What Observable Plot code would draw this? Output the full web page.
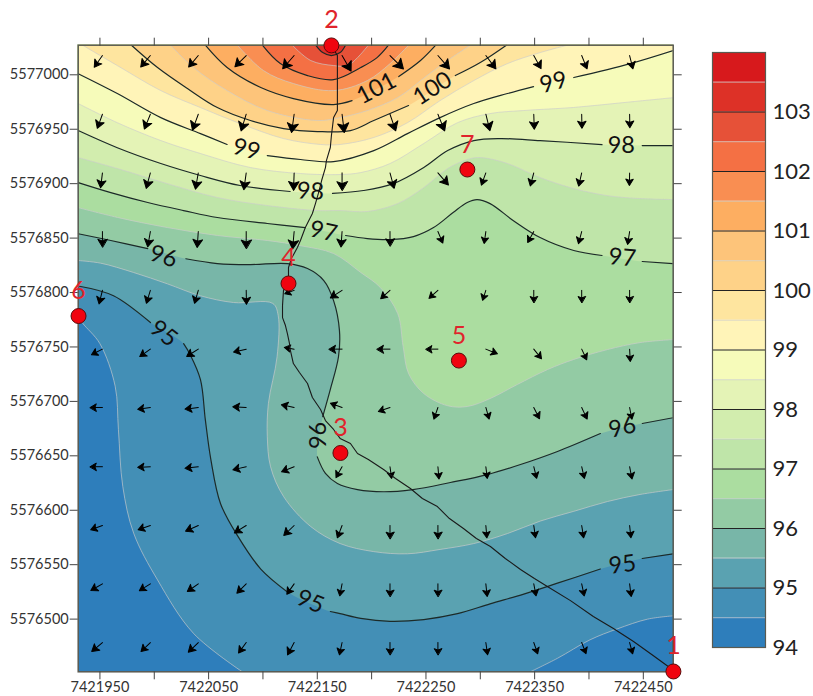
<!DOCTYPE html>
<html><head><meta charset="utf-8">
<script src="https://cdn.jsdelivr.net/npm/d3@7"></script>
<script src="https://cdn.jsdelivr.net/npm/@observablehq/plot@0.6"></script>
<style>
html,body{margin:0;padding:0;background:#fff;overflow:hidden}
#wrap{position:relative;width:813px;height:696px}
#bar{position:absolute;left:690px;top:30px}
#main svg,#bar svg{display:block;background:none}
</style></head><body>
<div id="wrap"><div id="main"></div><div id="bar"></div></div>
<script>
// Coordinates are metres relative to a base point
const E0 = 7421900, N0 = 5576400;
const xTicks = [7421950,7422000,7422050,7422100,7422150,7422200,7422250,7422300,7422350,7422400,7422450];
const yTicks = [5576500,5576550,5576600,5576650,5576700,5576750,5576800,5576850,5576900,5576950,5577000];
const levels = [94,94.5,95,95.5,96,96.5,97,97.5,98,98.5,99,99.5,100,100.5,101,101.5,102,102.5,103,103.5];
const colors = ["#2e7ebb","#438fb6","#5aa2b1","#78b6a8","#93cba4","#abdda0","#bfe5a9","#d2edae","#e4f3b6","#f6fbba",
                "#fff4b8","#fee59f","#fed288","#fdc47a","#fdae61","#f98e52","#f47044","#e65138","#dd3127","#d7191c"];

// Isolines; null marks a gap left for a contour label
const iso94_5a = [[30,379],[34,372],[50,353],[64,314],[67,274],[71,222],[81,179],[103,136],[136,87],[181,51.6]];
const iso94_5b = [[446,51.6],[471,64],[501,81],[526,91],[554,100],[577.5,103]];
const iso95 = [[30,406],[62.5,397],[96.5,372.4],null,[127,353],[133,343],[142.5,320],[147,283],[152,247],[161,206],[177,176],[198,146],[222.5,125],null,[262,107],[271,105],[290,100.6],[317,98],[348,99.6],[379,105],[409,114],[440,123],[471,133],[510.5,146],null,[549,155.7],[577.5,160]];
const iso95_5 = [[30,429.4],[50.5,427],[81,418.4],[112,408],[142.5,397],[173,390.8],[209,390],[214,379],[213,341],[205,298],[204,268],[207,240],[219,212.6],[244,185],[271,169.4],[302,162],[333,160],[363,164],[394,169.4],[425,178.6],[455,190],[486,199],[517,208],[547,214.5],[577.5,219]];
const iso96 = [[30,454],[60,447.8],[94,440.4],null,[129,431],[158,426.6],[188.5,425.7],[222.5,426.6],[241,422],[256,411],[265,392.6],[270.4,365],[269.5,341],[262,311],[255,286],null,[250,249],[257.5,233.8],[268.5,224.6],[287,219],[311,217],[338,219],[372.5,225.5],[406.5,232.8],[437,242],[471,254],[510.5,270.5],null,[549,279.7],[577.5,285]];
const iso96_5 = [[30,478],[66,469],[112,459.7],[158,452.4],[204,447.8],[234.5,443],[265,435.8],[290,418.4],[308,404.6],[324,380.7],[329,350.4],[334,325.6],[348,307.2],[370,296],[388,295.3],[409,302.6],[434,315.5],[462,329.3],[486,338.5],[517,347.6],[547,354],[577.5,356.8]];
const iso97 = [[30,501],[60,491.8],[94,482.7],[127,475.3],[158,468.9],[204,463.4],[239,459.7],null,[276,452.4],[296,449.6],[317,448.7],[338.5,451.4],[357,459.7],[375,473.5],[388,482.7],[397,485.4],[409,481.7],[430.5,466],[455,450.5],[486,438.6],[512,434],null,[549,428.5],[577.5,426.6]];
const iso97_5 = [[30,524],[66,513.9],[112,500],[158,487.3],[204,479.9],[250,475.3],[271,475.3],[296,474.4],[324,481.7],[348,496.4],[370,513.9],[388,522.2],[400,524],[425,518.5],[455,505.6],[486,495.5],[517,489],[547,486.3],[577.5,485.4]];
const iso98 = [[30,548.8],[66,533],[106,518.5],[142.5,507.5],[179,498.3],[225,492.8],null,[264,491],[292.5,493.7],[320,500],[348,514.8],[370,530.4],[394,539.6],[418.5,541.4],[455,539.6],[512,535.9],null,[549,535],[577.5,535]];
const iso98_5 = [[30,573.6],[66,556],[106,539.6],[142.5,527.7],[188.5,514.8],[234.5,509.3],[271,508.4],[290,510.2],[317,518.5],[348,536.9],[379,556],[409,564.4],[440,567.2],[486,570],[532,574.5],[577.5,579]];
const iso99 = [[30,601],[66,582.8],[106,560.7],[142.5,546],[167,536],null,[204,525.8],[234.5,522.2],[265,520.3],[302,530.4],[333,546],[363,560.7],[394,573.6],[425,582.8],[449,589.2],null,[486,597.5],[538,610.3],[577.5,622.3]];
const iso99_5 = [[34,627.2],[66,608.5],[106,585.5],[142.5,569.9],[179,555.2],[219,541.4],[253,536],[271,536],[302,542.4],[333,556],[363,576.3],[394,594.7],[425,610.3],[455,620.4],[480,627.2]];
const iso100 = [[79,627.2],[103,606.7],[130.5,587.4],[158,569.9],[188.5,558],[219,550.6],[250,547.9],[280.5,548.8],[302,558],[334,571.8],null,[377,599.3],[400,611.3],[424,627.2]];
const iso100_5 = [[115,627.2],[136,606.7],[167,585.5],[204,567.2],[250,558],[271,560.7],[296,567.2],[324,579.1],[351,599.3],[372.5,615],[391,627.2]];
const iso101 = [[147,627.2],[167,606.7],[198,588.3],[228,578.2],[265,572.7],[282,576.3],null,[325,598.4],[345,613.1],[359,627.2]];
const iso101_5 = [[176.5,627.2],[200.5,603.9],[228,592],[265,585.5],[296,594.7],[317,610.3],[334,627.2]];
const iso102 = [[199.5,627.2],[216,610.3],[241,599.3],[265,595.6],[290,606.7],[305,615.8],[315.5,627.2]];
const iso102_5 = [[227,627.2],[244,613.1],[265,608.5],[278,608.5],[287,615.8],[297,627.2]];
const iso103 = [[248.5,627.2],[255,620.4],[263,617.7],[271,620.4],[276,627.2]];

// Profile line through the stations
const track = [[263,627],[268.5,617.7],[268.5,567.2],[265,560.7],[263,544.2],[262,533.2],[258.4,521.2],[257.5,514.8],[254,502.9],[251,491],[248.3,481.7],[245.5,472.6],[239,459.7],[234.5,447.8],[231.7,441.3],[226.2,431.2],[223.5,423],[223.5,413.8],[218.9,401.8],[218,388],[218,377],[220.7,369.7],[222.5,362.3],[224.4,353.2],[225.3,346.7],[228,334.8],[233.6,326.5],[241,316.4],[245.5,303.6],[253,292.5],[257.5,282.4],[265,274.2],[271,266],[280.5,261.3],[287,252.1],[297,246.6],[311,237.4],[322,229.2],[335.7,220],[346.7,210.8],[360.5,203.4],[371.6,192.4],[384.5,183.2],[396.4,174],[409.3,166.7],[423,155.7],[437,145.6],[449.8,137.3],[461.7,130],[483,117],[504,102.4],[522.5,91.4],[541,79.4],[559,66.6],[576.7,53.7]];

const stationIds = ["1","2","3","4","5","6","7"];
const stationE = [577.7,263,271.3,223.5,380.3,30.3,388.1];
const stationN = [51.9,627,252.6,408.3,337.5,378.4,513];

const labelText = ["101","100","99","98","97","96","95","95","96","95","99","98","97","96"];
const labelE = [304.4,356,467.3,529.8,530.7,530.7,530.7,243.7,108.5,108.5,184.8,243.7,255.7,251];
const labelN = [587.4,587.4,592.9,535,432,276,150,116,433,362.3,531.3,492.8,456,268.7];
const labelAngle = [-28,-33,-15,0,5,-13,-8,22,17,38,15,3,12,-90];

// Flow arrows: tails on a regular grid
const gridE = [52.3,96.4,140.5,184.6,228.7,272.8,316.9,361,405.1,449.2,493.3,537.4];
const gridN = [617.7,563.8,509.9,456,402,348,294.4,240,186,132.4,78.5];
const arrowAngle = [
 [215,220,220,225,221,150,135,139,143,151,158,166],
 [200,202,200,197,188,173,161,158,166,178,179,179],
 [187,195,190,188,182,180,165,139,200,195,193,181],
 [180,190,184,180,185,184,180,157,188,209,195,189],
 [194,197,196,179,250,237,228,228,198,180,180,180],
 [243,235,238,257,280,270,270,270,112,141,155,177],
 [270,262,263,273,282,290,251,199,164,153,155,169],
 [270,267,263,257,248,209,172,175,173,166,167,169],
 [250,251,246,238,226,201,180,180,175,172,171,174],
 [240,238,235,225,215,191,180,180,174,169,168,173],
 [230,226,226,216,208,192,180,180,172,161,159,165]];
const arrowSize = [
 [14.3,15,15,16,17.5,18,19,17.7,16.7,15,14.3,13.7],
 [15,16,17,17.5,18.5,18.5,17.6,18,17,15,14,13.5],
 [15,16,16.5,17,17.5,17.5,16,16,13,13.5,13.5,12.5],
 [15.5,15.5,16,17,17.5,15.5,14.5,12.5,12,12.5,12.5,13],
 [14,13.5,13.5,14,10,14,12.5,12,10.5,12.3,12.3,12.3],
 [12.3,13,13.7,13,10,13,13,12,12.5,12.3,11.8,12.3],
 [12.3,12.8,13.4,13.4,13,12.4,12.3,12.3,12,12.7,12.8,12],
 [12.3,12.7,13.4,13.7,13.6,12.5,11.8,12.4,11.8,12,12,12.5],
 [12.5,13,13.9,14,14.4,13.2,13.3,13.3,12.4,12.4,12.5,12.4],
 [13.4,13,13.4,13.2,12.7,12.2,12.7,12.7,12.7,12.2,12.3,12.8],
 [14,13,13.9,13,14,12.6,12.3,12.3,12.4,12,12,11.7]];

const FONT = "Lato, 'Open Sans', sans-serif";
const TR = [579,629], TL = [29,629];
const solid = p => p ? [p[0], p[1]] : [NaN, NaN];
const noGaps = l => l.filter(Boolean);
const last = l => l[l.length-1];
const toTop = l => { const p = noGaps(l); return [...p, last(p), TR, TR, TL, TL]; };

const regions = [
  [...iso94_5a, last(iso94_5a), iso94_5b[0], ...iso94_5b, last(iso94_5b), TR, TR, TL, TL],
  toTop(iso95), toTop(iso95_5), toTop(iso96), toTop(iso96_5), toTop(iso97), toTop(iso97_5),
  toTop(iso98), toTop(iso98_5), toTop(iso99),
  noGaps(iso99_5), noGaps(iso100), noGaps(iso100_5), noGaps(iso101), noGaps(iso101_5),
  noGaps(iso102), noGaps(iso102_5), noGaps(iso103)
];
const majorLines = [iso95, iso96, iso97, iso98, iso99, iso100, iso101, iso102, iso103];
const minorLines = [iso94_5a, iso94_5b, iso95_5, iso96_5, iso97_5, iso98_5, iso99_5, iso100_5, iso101_5, iso102_5];

const X = d => E0 + d[0], Y = d => N0 + d[1];

const arrows = arrowAngle.flatMap((row, i) => row.map((a, j) => ({
  x: E0 + gridE[j], y: N0 + gridN[i], rotate: a, size: arrowSize[i][j]
})));
const arrowShape = { draw(c, l) {
  const h = 6 + Math.max(0, l - 12) * 0.5, w = h * 0.6;
  c.moveTo(0, 0); c.lineTo(0, -l + h * 0.6);
  c.moveTo(0, -l); c.lineTo(w, -l + h); c.lineTo(0, -l + h * 0.78); c.lineTo(-w, -l + h); c.closePath();
}};

const stations = stationIds.map((id, i) => ({id, x: E0 + stationE[i], y: N0 + stationN[i]}));
const contourLabels = labelText.map((t, i) => ({t, x: E0 + labelE[i], y: N0 + labelN[i], a: labelAngle[i]}));

const axisCommon = {tickSize: 8, stroke: "#444", color: "#333", label: null, fontSize: 14.5};

const main = Plot.plot({
  width: 813, height: 696,
  marginLeft: 77.7, marginRight: 140.3, marginTop: 44.7, marginBottom: 24.7,
  style: {fontFamily: FONT, background: "none", overflow: "visible"},
  x: {domain: [E0 + 30, E0 + 577.5]},
  y: {domain: [N0 + 51.6, N0 + 627.2]},
  length: {type: "identity"},
  marks: [
    Plot.frame({fill: colors[0], stroke: "none"}),
    ...regions.map((r, i) => Plot.line(r, {x: X, y: Y, curve: "catmull-rom", fill: colors[i + 1], stroke: "none", clip: "frame"})),
    ...minorLines.map(l => Plot.line(l.map(solid), {x: X, y: Y, curve: "catmull-rom", stroke: "#cccccc", strokeOpacity: 0.65, strokeWidth: 1, clip: "frame"})),
    ...majorLines.map(l => Plot.line(l.map(solid), {x: X, y: Y, curve: "catmull-rom", stroke: "#1c2a28", strokeWidth: 1.2, clip: "frame"})),
    Plot.vector(arrows, {x: "x", y: "y", rotate: "rotate", length: "size", anchor: "start", shape: arrowShape, stroke: "#000", fill: "#000", strokeWidth: 1}),
    Plot.line(track, {x: X, y: Y, stroke: "#1a1a1a", strokeWidth: 1.1}),
    Plot.text(contourLabels, {x: "x", y: "y", text: "t", rotate: "a", fontSize: 23.5, fill: "#111"}),
    Plot.frame({stroke: "#5a5a50", strokeWidth: 1.5}),
    Plot.axisX(xTicks, {...axisCommon, anchor: "bottom", tickPadding: 2, tickFormat: d => (d - 7421950) % 100 === 0 ? String(d) : ""}),
    Plot.axisX(xTicks, {...axisCommon, anchor: "top", tickFormat: () => ""}),
    Plot.axisY(yTicks, {...axisCommon, anchor: "left", tickPadding: 1.5, tickFormat: d => String(d)}),
    Plot.axisY(yTicks, {...axisCommon, anchor: "right", tickFormat: () => ""}),
    Plot.dot(stations, {x: "x", y: "y", r: 7.5, fill: "#f0040f", stroke: "#5a0a0a", strokeWidth: 1}),
    Plot.text(stations, {x: "x", y: "y", text: "id", dy: -25, fontSize: 25, fill: "#e0242c"})
  ]
});
document.getElementById("main").append(main);

const barRows = levels.map((v, i) => ({y1: v, y2: v + 0.5, c: colors[i]}));
const barMajor = [95,96,97,98,99,100,101,102,103];
const barMinor = [94.5,95.5,96.5,97.5,98.5,99.5,100.5,101.5,102.5,103.5];
const barTicks = [94,95,96,97,98,99,100,101,102,103];
const bar = Plot.plot({
  width: 123, height: 640,
  marginLeft: 22, marginRight: 48, marginTop: 22, marginBottom: 23,
  style: {fontFamily: FONT, background: "none", overflow: "visible"},
  x: {domain: [0, 1], axis: null},
  y: {domain: [94, 104]},
  marks: [
    Plot.rect(barRows, {x1: 0, x2: 1, y1: "y1", y2: "y2", fill: "c"}),
    Plot.ruleY(barMinor, {stroke: "#cccccc", strokeOpacity: 0.65, strokeWidth: 1}),
    Plot.ruleY(barMajor, {stroke: "#222", strokeWidth: 1.1}),
    Plot.frame({stroke: "#5a5a50", strokeWidth: 1.2}),
    Plot.axisY(barTicks, {anchor: "right", tickSize: 0, tickPadding: 7, fontSize: 22, color: "#222", label: null, tickFormat: d => String(d)})
  ]
});
document.getElementById("bar").append(bar);
</script>
</body></html>
